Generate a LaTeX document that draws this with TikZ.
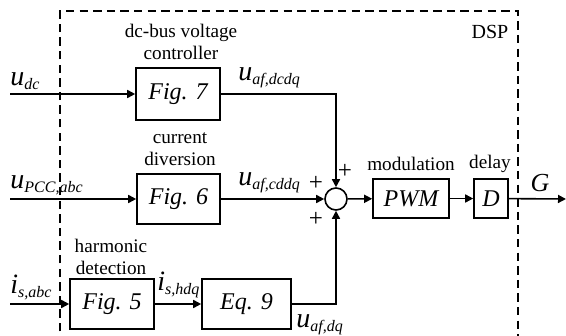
\documentclass[tikz,border=0pt]{standalone}
\usepackage{fontspec}
\setmainfont{Liberation Serif}
\usepackage{tikz}
\usetikzlibrary{arrows.meta,positioning,calc}

\newcommand{\sig}[2]{{\fontsize{14}{15}\selectfont\textit{#1}}\textsubscript{\textit{#2}}}

\begin{document}
\begin{tikzpicture}[x=0.5pt, y=-0.5pt,
    box/.style={draw, line width=0.8pt, inner sep=0pt, font=\fontsize{12}{13}\selectfont\itshape},
    lbl/.style={font=\fontsize{9.6}{10.8}\selectfont, align=center},
    sig/.style={font=\fontsize{12}{13}\selectfont, inner sep=1pt},
    plus/.style={font=\fontsize{12.5}{13}\selectfont, inner sep=0pt},
    arrow/.style={-{Triangle[length=4pt,width=4pt]}, line width=0.8pt}
]
\useasboundingbox (0,0) rectangle (566,336);

% DSP boundary
\draw[dash pattern=on 4.2pt off 2.6pt, line width=0.6pt] (60,345) -- (60,11) -- (518,11) -- (518,345);
\node[lbl, font=\fontsize{10}{11}\selectfont] (dsp) at (490,32) {DSP};

% dc-bus voltage controller
\coordinate (indc) at (10,94);
\node[sig, anchor=south west] (udc) at (8,92) {\sig{u}{dc}};
\node[box, minimum width=42pt, minimum height=26pt] (fig7) at (178,94) {Fig. 7};
\node[lbl] (dcctrl) at (181,42) {dc-bus voltage\\controller};

% current diversion
\coordinate (inpcc) at (10,199);
\node[sig, anchor=south west] (upcc) at (8,197) {\sig{u}{PCC,abc}};
\node[box, minimum width=41.5pt, minimum height=25pt] (fig6) at (178.5,199) {Fig. 6};
\node[lbl] (curdiv) at (180,149) {current\\diversion};

% harmonic detection
\coordinate (inis) at (10,304);
\node[sig, anchor=south west] (isabc) at (8,302) {\sig{i}{s,abc}};
\node[box, minimum width=42pt, minimum height=25pt] (fig5) at (112,304) {Fig. 5};
\node[lbl] (harm) at (111,257) {harmonic\\detection};
\node[box, minimum width=44.5pt, minimum height=25pt] (eq9) at (246.5,304) {Eq. 9};
\node[sig, anchor=south west] (ishdq) at (155,300) {\sig{i}{s,hdq}};

% summing junction
\node[draw, circle, line width=0.8pt, minimum size=11pt, inner sep=0pt] (sum) at (336,199) {};
\node[sig, anchor=south west] (uafdc) at (236,90) {\sig{u}{af,dcdq}};
\node[sig, anchor=south west] (uafcd) at (236,195) {\sig{u}{af,cddq}};
\node[sig, anchor=west] (uafdq) at (294,325) {\sig{u}{af,dq}};
\node[plus] (ptop) at (345,171) {+};
\node[plus] (pleft) at (316,183) {+};
\node[plus] (pbot) at (316,219) {+};

% modulation and delay
\node[box, minimum width=38pt, minimum height=19.5pt] (pwm) at (411,198.5) {PWM};
\node[lbl] (modu) at (411,164) {modulation};
\node[box, minimum width=17pt, minimum height=19.5pt] (delay) at (491,198.5) {D};
\node[lbl] (dly) at (490,164) {delay};
\coordinate (out) at (566,199);
\node[sig, anchor=south, font=\fontsize{13}{14}\selectfont] (g) at (540,194) {\textit{G}};

\draw[arrow] (indc) -- (fig7);
\draw[arrow] (inpcc) -- (fig6);
\draw[arrow] (inis) -- (fig5);
\draw[arrow] (fig5) -- (eq9);
\draw[arrow] (fig7.east) -| (sum.north);
\draw[arrow] (fig6) -- (sum);
\draw[arrow] (eq9.east) -| (sum.south);
\draw[arrow] (sum) -- (pwm);
\draw[arrow] (pwm) -- (delay);
\draw[arrow] (delay) -- (out);
\end{tikzpicture}
\end{document}
